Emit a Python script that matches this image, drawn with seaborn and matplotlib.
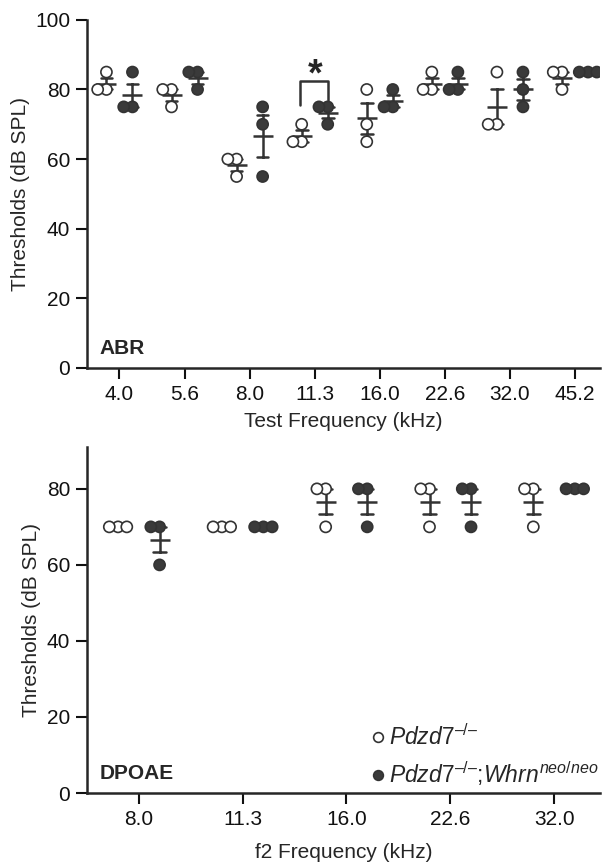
import pandas as pd
import matplotlib
matplotlib.use('Agg')
import matplotlib.pyplot as plt
from matplotlib.lines import Line2D
import seaborn as sns

# Thresholds (3 mice per group)
abr_freqs = ['4.0', '5.6', '8.0', '11.3', '16.0', '22.6', '32.0', '45.2']
abr_pdzd7 = [[85, 80, 80], [80, 80, 75], [60, 60, 55], [70, 65, 65],
             [80, 70, 65], [85, 80, 80], [85, 70, 70], [85, 85, 80]]
abr_double = [[85, 75, 75], [85, 85, 80], [75, 70, 55], [75, 75, 70],
              [80, 75, 75], [85, 80, 80], [85, 80, 75], [85, 85, 85]]

dpoae_freqs = ['8.0', '11.3', '16.0', '22.6', '32.0']
dpoae_pdzd7 = [[70, 70, 70], [70, 70, 70], [80, 80, 70], [80, 80, 70], [80, 80, 70]]
dpoae_double = [[70, 70, 60], [70, 70, 70], [80, 80, 70], [80, 80, 70], [80, 80, 80]]

genotypes = ['Pdzd7', 'Pdzd7;Whrn']
legend_labels = [r'$\mathit{Pdzd7}^{\mathit{–/–}}$',
                 r'$\mathit{Pdzd7}^{\mathit{–/–}}$;$\mathit{Whrn}^{\mathit{neo/neo}}$']

DARK = '#333333'
FILL = '#3a3a3a'


def to_long(freqs, a, b):
    rows = []
    for f, va, vb in zip(freqs, a, b):
        rows += [(f, genotypes[0], v) for v in va]
        rows += [(f, genotypes[1], v) for v in vb]
    return pd.DataFrame(rows, columns=['freq', 'genotype', 'threshold'])


def plot_panel(ax, df, freqs, capsize):
    # swarm laid out with small markers so the circles overlap like the original
    sns.swarmplot(data=df, x='freq', y='threshold', hue='genotype',
                  order=freqs, hue_order=genotypes, dodge=True,
                  palette={genotypes[0]: 'white', genotypes[1]: FILL},
                  size=4.8, linewidth=1.2, edgecolor=DARK, legend=False,
                  warn_thresh=1, ax=ax)
    sns.pointplot(data=df, x='freq', y='threshold', hue='genotype',
                  order=freqs, hue_order=genotypes, dodge=0.4,
                  palette={g: DARK for g in genotypes}, errorbar='se',
                  markers='_', linestyles='none', capsize=capsize,
                  err_kws={'linewidth': 1.8}, markersize=15,
                  markeredgewidth=1.8, legend=False, ax=ax)
    sns.despine(ax=ax)
    for s in ['left', 'bottom']:
        ax.spines[s].set_linewidth(1.8)
    ax.tick_params(length=8, width=1.5, pad=4, labelsize=15, colors='#111111')


sns.set_style('ticks')
plt.rcParams['font.family'] = ['Liberation Sans', 'DejaVu Sans']
plt.rcParams['mathtext.fontset'] = 'custom'
plt.rcParams['mathtext.it'] = 'Liberation Sans:italic'
plt.rcParams['mathtext.rm'] = 'Liberation Sans'

fig = plt.figure(figsize=(6.12, 8.63), dpi=100)

# ABR panel
ax1 = fig.add_axes([0.142, 0.5736, 0.838, 0.4034])
plot_panel(ax1, to_long(abr_freqs, abr_pdzd7, abr_double), abr_freqs, 0.18)
ax1.set_ylim(0, 100)
ax1.set_yticks([0, 20, 40, 60, 80, 100])
ax1.set_xlim(-0.5, 7.38)
ax1.set_xlabel('Test Frequency (kHz)', fontsize=15, labelpad=6)
ax1.set_ylabel('Thresholds (dB SPL)', fontsize=15, labelpad=4)
ax1.text(0.025, 0.03, 'ABR', transform=ax1.transAxes, fontsize=15,
         fontweight='bold', va='bottom')
# significance bracket at 11.3 kHz
ax1.plot([2.77, 2.77, 3.2, 3.2], [75.5, 82.5, 82.5, 77], color=DARK, lw=1.8)
ax1.text(3.0, 78.8, '*', ha='center', va='bottom', fontsize=27, fontweight='bold')

# DPOAE panel
ax2 = fig.add_axes([0.142, 0.0811, 0.838, 0.4009])
plot_panel(ax2, to_long(dpoae_freqs, dpoae_pdzd7, dpoae_double), dpoae_freqs, 0.12)
ax2.set_ylim(0, 91)
ax2.set_yticks([0, 20, 40, 60, 80])
ax2.set_xlim(-0.5, 4.44)
ax2.set_xlabel('f2 Frequency (kHz)', fontsize=15, labelpad=10)
ax2.set_ylabel('Thresholds (dB SPL)', fontsize=15, labelpad=4)
ax2.text(0.025, 0.03, 'DPOAE', transform=ax2.transAxes, fontsize=15,
         fontweight='bold', va='bottom')

handles = [
    Line2D([], [], ls='none', marker='o', ms=7, mfc='white', mec=DARK, mew=1.2),
    Line2D([], [], ls='none', marker='o', ms=7, mfc=FILL, mec=DARK, mew=1.2),
]
ax2.legend(handles, legend_labels, loc='lower right', bbox_to_anchor=(1.038, -0.045),
           frameon=False, fontsize=16.5, handlelength=0.6, handletextpad=0.2,
           labelspacing=0.4)

# fix the swarm positions, then enlarge the markers
fig.canvas.draw()
for ax in (ax1, ax2):
    for coll in ax.collections:
        if 'draw' in vars(coll):
            del coll.draw
        coll.set_sizes([64])
ax1.set_xlim(-0.5, 7.38)
ax2.set_xlim(-0.5, 4.44)

fig.savefig('out.png', dpi=100)
